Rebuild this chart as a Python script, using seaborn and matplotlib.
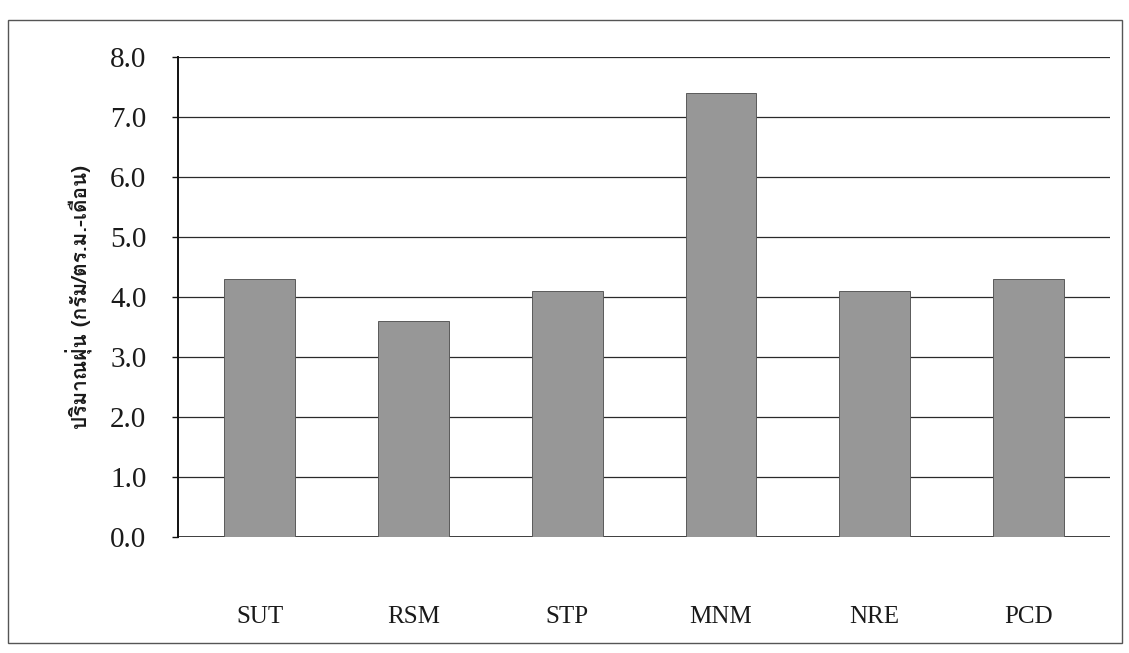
import matplotlib
matplotlib.use("Agg")
import matplotlib.pyplot as plt
from matplotlib import font_manager
from matplotlib.ft2font import FT2Font
from matplotlib.patches import Rectangle
import seaborn as sns
import pandas as pd

# Monthly dust fall per site
sites = ["SUT", "RSM", "STP", "MNM", "NRE", "PCD"]
dust = [4.3, 3.6, 4.1, 7.4, 4.1, 4.3]
y_ticks = [0.0, 1.0, 2.0, 3.0, 4.0, 5.0, 6.0, 7.0, 8.0]
y_label = "ปริมาณฝุ่น (กรัม/ตร.ม.-เดือน)"


def thai_family():
    """Return the first installed family that has Thai glyphs."""
    seen = set()
    for f in font_manager.fontManager.ttflist:
        if f.name in seen:
            continue
        seen.add(f.name)
        try:
            if 0x0E1B in FT2Font(f.fname).get_charmap():
                return f.name
        except Exception:
            pass
    return "DejaVu Sans"


sns.set_theme(style="white")
plt.rcParams["font.family"] = ["Liberation Serif", "DejaVu Serif"]

df = pd.DataFrame({"site": sites, "dust": dust})

fig = plt.figure(figsize=(11.29, 6.53), dpi=100)
ax = fig.add_axes([0.158, 0.178, 0.825, 0.735])

sns.barplot(data=df, x="site", y="dust", color="#979797", width=0.46,
            edgecolor="#5a5a5a", linewidth=0.7, saturation=1, ax=ax, zorder=3)

ax.set_ylim(0, 8.0)
ax.set_xlim(-0.53, len(sites) - 0.47)
ax.set_yticks(y_ticks)
ax.set_yticklabels([f"{v:.1f}" for v in y_ticks])
ax.yaxis.grid(True, color="#2a2a2a", linewidth=0.9)
ax.set_axisbelow(True)

for side in ("top", "right", "bottom"):
    ax.spines[side].set_visible(False)
ax.spines["left"].set_color("#111111")
ax.spines["left"].set_linewidth(1.4)
ax.axhline(0, color="#222222", linewidth=1.2, zorder=2)

ax.tick_params(axis="y", which="major", left=True, length=4, width=1,
               color="#111111", pad=19, labelsize=21, labelcolor="#1a1a1a")
ax.tick_params(axis="x", bottom=False, pad=44, labelsize=18,
               labelcolor="#1a1a1a")

ax.set_xlabel("")
ax.set_ylabel(y_label, family=[thai_family(), "DejaVu Sans"],
              fontsize=15, fontweight="bold", color="#1a1a1a", labelpad=12)

# Chart-area border
fig.add_artist(Rectangle((0.007, 0.015), 0.987, 0.955, transform=fig.transFigure,
                         fill=False, edgecolor="#555555", linewidth=1.0))

fig.savefig("out.png", dpi=100, facecolor="white")
